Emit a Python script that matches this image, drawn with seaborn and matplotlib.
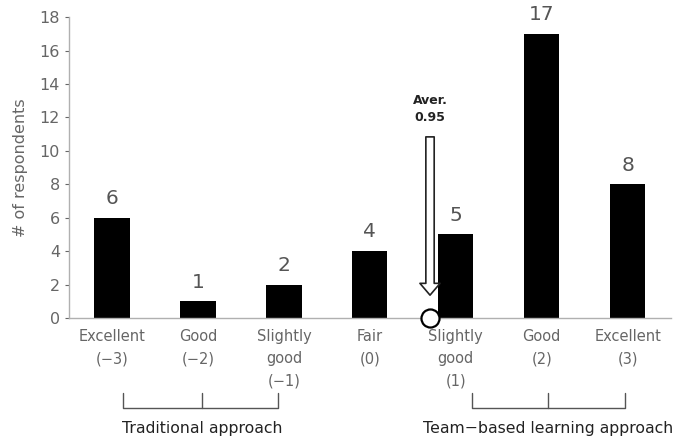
import matplotlib
matplotlib.use("Agg")
import matplotlib.pyplot as plt
import seaborn as sns
import pandas as pd

# data
categories = ["Excellent\n(−3)", "Good\n(−2)", "Slightly\ngood\n(−1)", "Fair\n(0)",
              "Slightly\ngood\n(1)", "Good\n(2)", "Excellent\n(3)"]
respondents = [6, 1, 2, 4, 5, 17, 8]
average_label = "Aver.\n0.95"
avg_pos = 3.7   # where the arrow sits on the category axis

df = pd.DataFrame({"cat": categories, "n": respondents})

sns.set_style("white")
plt.rcParams["font.family"] = ["DejaVu Sans"]

fig = plt.figure(figsize=(6.83, 4.38), dpi=100)
ax = fig.add_axes([0.101, 0.274, 0.881, 0.687])

sns.barplot(data=df, x="cat", y="n", color="black", width=0.41, saturation=1,
            linewidth=0, ax=ax)

ax.set_xlim(-0.5, 6.5)
ax.set_ylim(0, 18)
ax.set_yticks(range(0, 19, 2))
ax.set_xlabel("")
ax.set_ylabel("# of respondents", color="#666666", fontsize=11.5, labelpad=8)

gray = "#666666"
ax.tick_params(axis="y", colors=gray, labelsize=11.5, length=3, left=True, width=0.8)
ax.tick_params(axis="x", colors=gray, labelsize=10.5, length=0, pad=8)
for lab in ax.get_xticklabels():
    lab.set_linespacing(1.6)
for s in ["top", "right"]:
    ax.spines[s].set_visible(False)
for s in ["left", "bottom"]:
    ax.spines[s].set_color("#b0b0b0")
    ax.spines[s].set_linewidth(1)

ax.bar_label(ax.containers[0], padding=7, fontsize=14.5, color="#555555")

# average arrow + circle
ax.annotate("", xy=(avg_pos, 1.2), xytext=(avg_pos, 11),
            arrowprops=dict(arrowstyle="simple,head_width=1.45,head_length=0.85,tail_width=0.6",
                            facecolor="white", edgecolor="#222222", lw=1.2))
ax.plot([avg_pos], [0], marker="o", markersize=13, markerfacecolor="white",
        markeredgecolor="black", markeredgewidth=1.6, clip_on=False, zorder=5)
ax.text(avg_pos, 11.6, average_label, ha="center", va="bottom", fontsize=9,
        fontweight="bold", color="#222222", linespacing=1.45)

# group brackets under the axis
def bracket(x0, xm, x1, label):
    kw = dict(color="#555555", lw=1, clip_on=False)
    ax.plot([x0, x0, x1, x1], [-4.5, -5.4, -5.4, -4.5], **kw)
    ax.plot([xm, xm], [-4.5, -5.4], **kw)
    ax.text(xm, -6.6, label, ha="center", va="center", fontsize=11.3, color="#222222")

bracket(0.13, 1.05, 1.93, "Traditional approach")
bracket(4.19, 5.07, 5.97, "Team−based learning approach")

fig.savefig("out.png", dpi=100)
